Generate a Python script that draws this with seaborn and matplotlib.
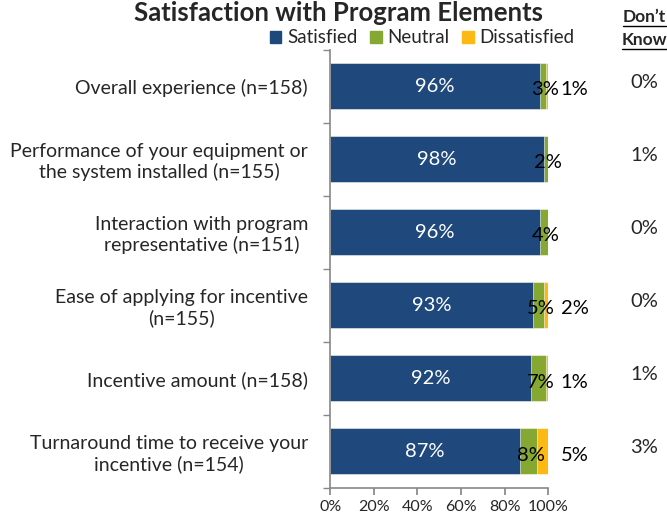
import matplotlib
matplotlib.use("Agg")
import matplotlib.pyplot as plt
import matplotlib.transforms as mtransforms
from matplotlib.patches import Patch
from matplotlib.lines import Line2D
import pandas as pd
import seaborn as sns

categories = [
    "Overall experience (n=158)",
    "Performance of your equipment or\nthe system installed (n=155)",
    "Interaction with program\nrepresentative (n=151)",
    "Ease of applying for incentive\n(n=155)",
    "Incentive amount (n=158)",
    "Turnaround time to receive your\nincentive (n=154)",
]
satisfied = [96, 98, 96, 93, 92, 87]
neutral = [3, 2, 4, 5, 7, 8]
dissatisfied = [1, 0, 0, 2, 1, 5]
dont_know = [0, 1, 0, 0, 1, 3]
xticks = [0, 20, 40, 60, 80, 100]

c_sat = "#1F497D"
c_neu = "#84A832"
c_dis = "#FDB913"

sns.set_theme(style="white")
plt.rcParams["font.family"] = ["Lato", "DejaVu Sans"]

df = pd.DataFrame({
    "item": categories,
    "sat": satisfied,
    "neu": neutral,
    "dis": dissatisfied,
})
df["sat_neu"] = df["sat"] + df["neu"]
df["total"] = df["sat_neu"] + df["dis"]

fig = plt.figure(figsize=(6.67, 5.19), dpi=100)
ax = fig.add_axes([0.495, 0.06, 0.327, 0.844])

# stacked: draw the cumulative totals back to front
bw = 0.63
sns.barplot(data=df, y="item", x="total", color=c_dis, width=bw, ax=ax,
            orient="h", saturation=1)
sns.barplot(data=df, y="item", x="sat_neu", color=c_neu, width=bw, ax=ax,
            orient="h", saturation=1)
sns.barplot(data=df, y="item", x="sat", color=c_sat, width=bw, ax=ax,
            orient="h", saturation=1)
for p in ax.patches:
    p.set_edgecolor("white")
    p.set_linewidth(0.4)

ax.set_xlim(0, 100)
ax.set_ylim(5.5, -0.5)
ax.set_xticks(xticks)
ax.set_xticklabels([f"{t}%" for t in xticks], fontsize=11.5)
ax.set_xlabel("")
ax.set_ylabel("")
ax.tick_params(axis="y", length=0, labelsize=14, pad=16)
for lbl in ax.get_yticklabels():
    lbl.set_multialignment("center")
ax.set_yticks([i + 0.5 for i in range(-1, 6)], minor=True)
ax.tick_params(axis="y", which="minor", length=5, color="#888888",
               direction="out", left=True)
ax.tick_params(axis="x", length=5, color="#888888", direction="out",
               bottom=True, pad=4)
for s in ["top", "right"]:
    ax.spines[s].set_visible(False)
for s in ["left", "bottom"]:
    ax.spines[s].set_color("#888888")
    ax.spines[s].set_linewidth(1.2)

for i in range(len(categories)):
    ax.text(satisfied[i] / 2, i, f"{satisfied[i]}%", color="white",
            ha="center", va="center", fontsize=14.5)
    if neutral[i]:
        ax.text(satisfied[i] + neutral[i] / 2 + 1, i + 0.05, f"{neutral[i]}%",
                color="black", ha="center", va="center", fontsize=14.5)
    if dissatisfied[i]:
        ax.text(112, i + 0.05, f"{dissatisfied[i]}%", color="black",
                ha="center", va="center", fontsize=14.5, clip_on=False)

trans = mtransforms.blended_transform_factory(fig.transFigure, ax.transData)
for i, v in enumerate(dont_know):
    ax.text(0.966, i - 0.05, f"{v}%", transform=trans, ha="center",
            va="center", fontsize=14.5, clip_on=False)

fig.text(0.507, 0.975, "Satisfaction with Program Elements", ha="center",
         va="center", fontsize=18.5, fontweight="bold")

handles = [Patch(color=c_sat, label="Satisfied"),
           Patch(color=c_neu, label="Neutral"),
           Patch(color=c_dis, label="Dissatisfied")]
fig.legend(handles=handles, loc="center", bbox_to_anchor=(0.633, 0.927),
           ncol=3, frameon=False, fontsize=13.5, handlelength=0.6,
           handleheight=0.6, handletextpad=0.3, columnspacing=0.7)

# "Don't Know" header, bold and underlined
fig.canvas.draw()
renderer = fig.canvas.get_renderer()
for txt, y in [("Don\u2019t", 0.967), ("Know", 0.923)]:
    t = fig.text(0.966, y, txt, ha="center", va="center", fontsize=12.5,
                 fontweight="bold")
    bb = t.get_window_extent(renderer).transformed(fig.transFigure.inverted())
    fig.add_artist(Line2D([bb.x0, bb.x1], [bb.y0 - 0.002, bb.y0 - 0.002],
                          color="black", lw=1, transform=fig.transFigure))

fig.savefig("out.png", dpi=100)
